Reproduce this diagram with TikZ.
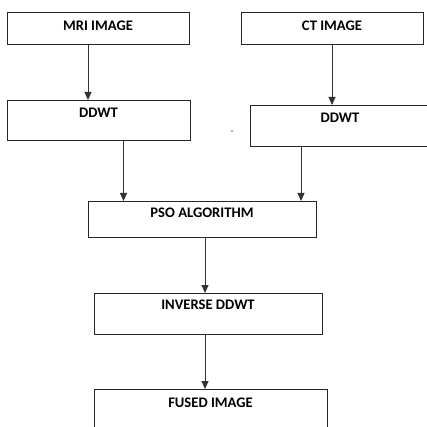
\documentclass[tikz,border=0pt]{standalone}
\usepackage{fontspec}
\setmainfont{Carlito}
\usepackage{tikz}
\usetikzlibrary{arrows.meta,positioning,calc}

\begin{document}
\begin{tikzpicture}[
  x=1pt, y=-1pt,
  box/.style={rectangle, draw=black!85, line width=1pt, inner sep=0pt, anchor=north,
    font=\fontsize{14.6}{16}\selectfont\bfseries},
  arrow/.style={-{Triangle[width=7pt,length=8pt]}, draw=black!80, line width=1pt}
]
  \useasboundingbox (0,0) rectangle (427,427);
  \begin{scope}
  \clip (0,0) rectangle (427,427);
  \node[box, minimum width=182pt, text height=18pt, text depth=14pt] (mri) at (98,12) {MRI IMAGE};
  \node[box, minimum width=182pt, text height=18pt, text depth=14pt] (ct) at (332,12) {CT IMAGE};
  \node[box, minimum width=183pt, text height=17pt, text depth=23pt] (ddwtl) at (98.5,100) {DDWT};
  \node[box, minimum width=180pt, text height=17pt, text depth=24pt] (ddwtr) at (340,105) {DDWT};
  \node[box, minimum width=228pt, text height=16pt, text depth=20pt] (pso) at (202,201) {PSO ALGORITHM};
  \node[box, minimum width=228pt, text height=16pt, text depth=25pt] (inv) at (208,293) {INVERSE DDWT};
  \node[box, minimum width=233pt, text height=18pt, text depth=30pt] (fused) at (210.5,389) {FUSED IMAGE};
  \end{scope}

  \fill[black!60] (232,131) circle (0.8pt);

  \draw[arrow] ([xshift=-10pt]mri.south) -- ([xshift=-10pt]mri.south |- ddwtl.north);
  \draw[arrow] (ct.south) -- (ct.south |- ddwtr.north);
  \draw[arrow] ([xshift=25pt]ddwtl.south) -- ([xshift=25pt]ddwtl.south |- pso.north);
  \draw[arrow] ([xshift=-39pt]ddwtr.south) -- ([xshift=-39pt]ddwtr.south |- pso.north);
  \draw[arrow] ([xshift=3pt]pso.south) -- ([xshift=3pt]pso.south |- inv.north);
  \draw[arrow] ([xshift=-3pt]inv.south) -- ([xshift=-3pt]inv.south |- fused.north);
\end{tikzpicture}
\end{document}
